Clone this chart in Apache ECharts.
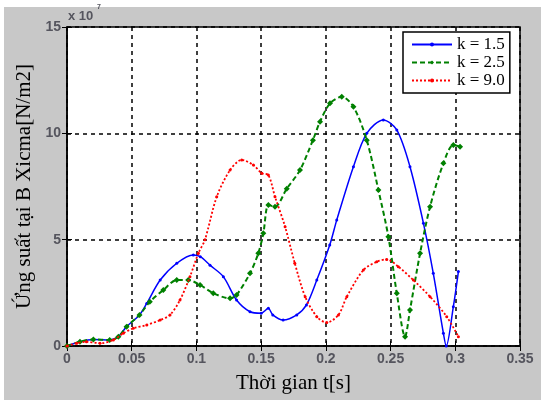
<!DOCTYPE html>
<html>
<head>
<meta charset="utf-8">
<script src="https://cdn.jsdelivr.net/npm/echarts@6/dist/echarts.min.js"></script>
<style>
  html, body { margin: 0; padding: 0; background: #ffffff; }
  #frame { position: absolute; left: 4px; top: 7px; width: 537px; height: 393px; background: #c8c8c8; }
  #chart { position: absolute; left: 0; top: 0; width: 544px; height: 407px; }
</style>
</head>
<body>
<div id="frame"></div>
<div id="chart"></div>
<script>
// Time axis [s] and stress values (x 10^7 N/m2) for each k
const tK15 = [0, 0.01, 0.0204, 0.033, 0.0397, 0.046, 0.056, 0.0616, 0.072, 0.0848, 0.0976, 0.103, 0.1105, 0.1208, 0.131, 0.1414, 0.150, 0.1556, 0.159, 0.167, 0.1775, 0.185, 0.193, 0.203, 0.2084, 0.2213, 0.2316, 0.2444, 0.2548, 0.265, 0.2754, 0.283, 0.2908, 0.293, 0.2985, 0.3024];
const vK15 = [0, 0.2, 0.31, 0.28, 0.44, 0.91, 1.46, 2.0, 3.1, 3.89, 4.28, 4.2, 3.8, 3.26, 2.16, 1.61, 1.54, 1.77, 1.46, 1.22, 1.46, 1.93, 3.1, 4.75, 5.92, 8.43, 10.0, 10.63, 10.16, 8.43, 5.77, 3.42, 0.6, 0.0, 1.85, 3.5];

const tK25 = [0, 0.01, 0.0204, 0.033, 0.0397, 0.046, 0.056, 0.064, 0.0744, 0.0848, 0.0937, 0.1028, 0.113, 0.126, 0.131, 0.1414, 0.1478, 0.1517, 0.1556, 0.1607, 0.1698, 0.18, 0.19, 0.1955, 0.2032, 0.2123, 0.2213, 0.2316, 0.2406, 0.2483, 0.2548, 0.2612, 0.265, 0.2728, 0.2805, 0.2908, 0.2985, 0.3037];
const vK25 = [0, 0.2, 0.31, 0.28, 0.44, 0.91, 1.46, 2.08, 2.63, 3.1, 3.1, 2.87, 2.48, 2.24, 2.4, 3.42, 4.36, 5.3, 6.63, 6.55, 7.4, 8.27, 9.68, 10.55, 11.41, 11.72, 11.25, 9.68, 7.33, 5.14, 2.48, 0.44, 1.69, 4.36, 6.55, 8.59, 9.45, 9.37];

const tK90 = [0, 0.0075, 0.015, 0.0255, 0.0358, 0.0435, 0.0512, 0.0616, 0.072, 0.0796, 0.0873, 0.095, 0.1015, 0.1066, 0.1157, 0.126, 0.135, 0.144, 0.1505, 0.1556, 0.1607, 0.1685, 0.176, 0.184, 0.193, 0.2007, 0.2097, 0.2162, 0.229, 0.2393, 0.247, 0.256, 0.2676, 0.2805, 0.2934, 0.3024];
const vK90 = [0, 0.13, 0.2, 0.13, 0.28, 0.6, 0.83, 0.99, 1.22, 1.46, 2.16, 3.26, 4.36, 5.0, 7.02, 8.27, 8.75, 8.51, 8.12, 8.04, 7.02, 5.61, 3.89, 2.32, 1.38, 1.1, 1.46, 2.32, 3.57, 3.96, 4.07, 3.73, 3.1, 2.32, 1.38, 0.44];

const seriesNames = ['k = 1.5', 'k = 2.5', 'k = 9.0'];
const xTicks = { min: 0, max: 0.35, step: 0.05 };
const yTicks = { min: 0, max: 15, step: 5 };

const pairs = (t, v) => t.map((x, i) => [x, v[i]]);

const chart = echarts.init(document.getElementById('chart'));

const tickLabel = {
  fontFamily: 'Liberation Sans, Arial, sans-serif',
  fontSize: 14,
  fontWeight: 'bold',
  color: '#55555e'
};
const gridLine = { show: true, lineStyle: { color: '#000', type: [4, 4], width: 1.5 } };

chart.setOption({
  backgroundColor: 'transparent',
  animation: false,
  grid: {
    left: 67, top: 27, right: 24, bottom: 61,
    show: true, backgroundColor: '#ffffff', borderColor: '#000', borderWidth: 1.5
  },
  xAxis: [{
    type: 'value', min: xTicks.min, max: xTicks.max, interval: xTicks.step,
    axisLine: { show: true, lineStyle: { color: '#000', width: 1.5 } },
    axisTick: { show: true, inside: true, length: 5, lineStyle: { color: '#000' } },
    axisLabel: Object.assign({ margin: 6, formatter: v => String(+v.toFixed(2)) }, tickLabel),
    splitLine: gridLine,
    name: 'Thời gian t[s]', nameLocation: 'middle', nameGap: 27,
    nameTextStyle: { fontFamily: 'Liberation Serif, Times New Roman, serif', fontSize: 21, color: '#000' }
  }, {
    type: 'value', position: 'top', min: xTicks.min, max: xTicks.max, interval: xTicks.step,
    axisLine: { show: false }, axisLabel: { show: false }, splitLine: { show: false },
    axisTick: { show: true, inside: true, length: 5, lineStyle: { color: '#000' } }
  }],
  yAxis: [{
    type: 'value', min: yTicks.min, max: yTicks.max, interval: yTicks.step,
    axisLine: { show: true, lineStyle: { color: '#000', width: 1.5 } },
    axisTick: { show: true, inside: true, length: 5, lineStyle: { color: '#000' } },
    axisLabel: Object.assign({ margin: 6 }, tickLabel),
    splitLine: gridLine,
    name: 'Ứng suất tại B Xicma[N/m2]', nameLocation: 'middle', nameGap: 28,
    nameTextStyle: { fontFamily: 'Liberation Serif, Times New Roman, serif', fontSize: 21, color: '#000' }
  }, {
    type: 'value', position: 'right', min: yTicks.min, max: yTicks.max, interval: yTicks.step,
    axisLine: { show: false }, axisLabel: { show: false }, splitLine: { show: false },
    axisTick: { show: true, inside: true, length: 5, lineStyle: { color: '#000' } }
  }],
  legend: {
    orient: 'vertical', left: 403, top: 32,
    data: seriesNames,
    itemWidth: 40, itemHeight: 5, itemGap: 1,
    padding: [4, 5, 4, 8],
    backgroundColor: '#ffffff', borderColor: '#000', borderWidth: 1.5, borderRadius: 0,
    textStyle: { fontFamily: 'Liberation Serif, Times New Roman, serif', fontSize: 17, color: '#000', padding: [0, 0, 0, 0] }
  },
  graphic: [
    { type: 'text', left: 68, top: 10, style: { text: 'x 10', font: 'bold 13px Liberation Sans, Arial, sans-serif', fill: '#55555e' } },
    { type: 'text', left: 97, top: 4, style: { text: '7', font: 'bold 7px Liberation Sans, Arial, sans-serif', fill: '#55555e' } }
  ],
  series: [{
    name: seriesNames[0], type: 'line', data: pairs(tK15, vK15),
    smooth: 0.3, symbol: 'circle', symbolSize: 3,
    lineStyle: { color: '#0000ff', width: 1.5, type: 'solid' },
    itemStyle: { color: '#0000ff' }, z: 3
  }, {
    name: seriesNames[1], type: 'line', data: pairs(tK25, vK25),
    smooth: 0.3, symbol: 'diamond', symbolSize: 6,
    lineStyle: { color: '#008000', width: 2, type: [5, 3] },
    itemStyle: { color: '#008000' }, z: 4
  }, {
    name: seriesNames[2], type: 'line', data: pairs(tK90, vK90),
    smooth: 0.3, symbol: 'circle', symbolSize: 3,
    lineStyle: { color: '#ff0000', width: 1.8, type: [2, 2] },
    itemStyle: { color: '#ff0000' }, z: 5
  }]
});
</script>
</body>
</html>
